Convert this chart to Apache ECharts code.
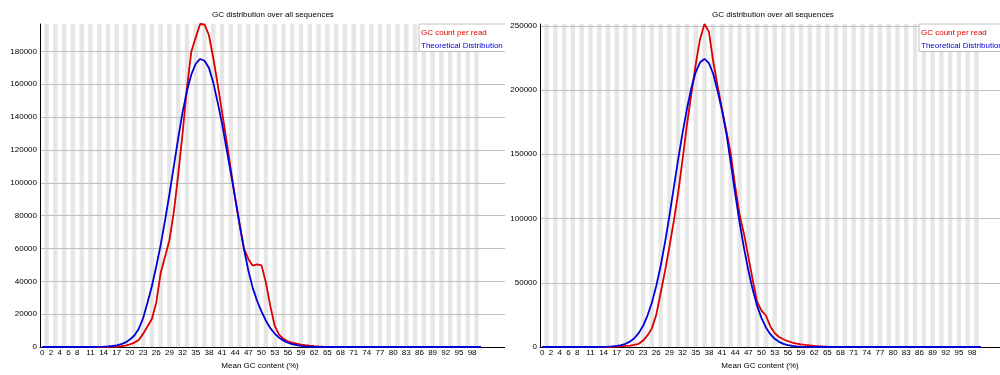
<!DOCTYPE html>
<html>
<head>
<meta charset="utf-8">
<title>GC distribution over all sequences</title>
<script src="https://cdn.jsdelivr.net/npm/echarts@6/dist/echarts.min.js"></script>
<style>
  html, body { margin: 0; padding: 0; background: #fff; width: 1000px; height: 375px; overflow: hidden; position: relative; }
  #rightPanel { position: absolute; left: 500px; top: 0; width: 505px; height: 375px; }
  #leftPanel  { position: absolute; left: 0; top: 0; width: 505px; height: 375px; }
</style>
</head>
<body>
<div id="rightPanel"></div>
<div id="leftPanel"></div>
<script>
// Mean GC content bins (%)
const gcPercent = Array.from({ length: 101 }, (_, i) => i);
// the plot area runs a few empty bins past 100%
const axisSlots = gcPercent.concat([101, 102, 103, 104, 105]);
// bins that carry a label on the x axis
const xTickLabels = [0, 2, 4, 6, 8, 11, 14, 17, 20, 23, 26, 29, 32, 35, 38, 41, 44, 47, 50, 53,
  56, 59, 62, 65, 68, 71, 74, 77, 80, 83, 86, 89, 92, 95, 98];

const seriesNames = ['GC count per read', 'Theoretical Distribution'];

// sample 1
const leftReadCounts = [
  0, 0, 0, 0, 0, 0, 0, 0, 0, 0,
  0, 0, 0, 0, 0, 50, 120, 250, 500, 900,
  1600, 2700, 4200, 8000, 12500, 17000, 27000, 45000, 55000, 65000,
  82000, 105000, 130000, 158000, 180000, 188500, 196700, 196500, 190000, 176000,
  160000, 143000, 126000, 108000, 90500, 75000, 60000, 53500, 49500, 50300,
  49700, 39200, 25000, 13000, 7500, 5000, 3500, 2600, 2000, 1500,
  1100, 800, 550, 350, 200, 120, 60, 30, 0, 0,
  0, 0, 0, 0, 0, 0, 0, 0, 0, 0,
  0, 0, 0, 0, 0, 0, 0, 0, 0, 0,
  0, 0, 0, 0, 0, 0, 0, 0, 0, 0,
  0
];
const leftTheory = [
  0, 0, 0, 0, 0, 0, 0, 0, 0, 0,
  0, 10, 30, 80, 170, 330, 600, 1000, 1700, 2800,
  4500, 7000, 11000, 17500, 27000, 37000, 49000, 62000, 77000, 93000,
  110000, 127000, 143000, 156000, 166000, 172500, 175400, 174300, 170000, 161000,
  149000, 136000, 121000, 106000, 90500, 74500, 59500, 46500, 36000, 28000,
  21500, 16000, 11500, 8200, 5700, 3900, 2600, 1700, 1100, 700,
  420, 250, 140, 70, 30, 0, 0, 0, 0, 0,
  0, 0, 0, 0, 0, 0, 0, 0, 0, 0,
  0, 0, 0, 0, 0, 0, 0, 0, 0, 0,
  0, 0, 0, 0, 0, 0, 0, 0, 0, 0,
  0
];

// sample 2
const rightReadCounts = [
  0, 0, 0, 0, 0, 0, 0, 0, 0, 0,
  0, 0, 0, 0, 0, 0, 100, 250, 500, 800,
  1100, 1600, 2500, 5000, 9000, 14500, 25000, 42000, 59000, 78000,
  98000, 120000, 146000, 173000, 197000, 220000, 240000, 251400, 245500, 222000,
  203000, 185000, 168000, 150000, 125000, 103000, 88000, 70000, 52000, 35000,
  28300, 24500, 16000, 10800, 7800, 6000, 4500, 3500, 2700, 2100,
  1600, 1300, 900, 600, 400, 250, 150, 80, 40, 0,
  0, 0, 0, 0, 0, 0, 0, 0, 0, 0,
  0, 0, 0, 0, 0, 0, 0, 0, 0, 0,
  0, 0, 0, 0, 0, 0, 0, 0, 0, 0,
  0
];
const rightTheory = [
  0, 0, 0, 0, 0, 0, 0, 0, 0, 0,
  0, 0, 0, 50, 110, 220, 430, 800, 1400, 2500,
  4200, 6800, 10800, 16500, 24500, 34500, 47500, 63000, 81500, 102000,
  124000, 146000, 166700, 185400, 201500, 214000, 221600, 224200, 221000, 212500,
  199000, 184000, 166000, 143000, 119000, 97000, 77000, 59500, 44500, 32000,
  22500, 15200, 10000, 6400, 4000, 2400, 1400, 800, 430, 220,
  110, 50, 0, 0, 0, 0, 0, 0, 0, 0,
  0, 0, 0, 0, 0, 0, 0, 0, 0, 0,
  0, 0, 0, 0, 0, 0, 0, 0, 0, 0,
  0, 0, 0, 0, 0, 0, 0, 0, 0, 0,
  0
];

const RED = 'rgb(220,0,0)';
const BLUE = 'rgb(0,0,220)';
const FONT = '"Liberation Sans", Arial, sans-serif';

function buildOption(readCounts, theory, yStep) {
  const yMax = Math.max(...readCounts, ...theory);
  // alternate grey bands behind every odd bin
  const bands = gcPercent.map(i => (i % 2 === 1 ? yMax : null));
  return {
    animation: false,
    textStyle: { fontFamily: FONT },
    title: {
      text: 'GC distribution over all sequences',
      left: 212, top: 11, padding: 0,
      textStyle: { fontSize: 8, fontWeight: 'normal', color: '#000', fontFamily: FONT }
    },
    legend: {
      orient: 'vertical', left: 419, top: 24,
      padding: [4, 8, 1, -3], itemGap: 2.5,
      itemWidth: 0, itemHeight: 10, icon: 'none',
      backgroundColor: '#fff', borderColor: '#c0c0c0', borderWidth: 1, borderRadius: 0,
      selectedMode: false,
      textStyle: { fontSize: 8, lineHeight: 10, fontFamily: FONT },
      data: [
        { name: seriesNames[0], textStyle: { color: RED } },
        { name: seriesNames[1], textStyle: { color: BLUE } }
      ]
    },
    grid: { left: 40, right: 0, top: 24, bottom: 25 },
    xAxis: {
      type: 'category', data: axisSlots, boundaryGap: true,
      axisLine: { lineStyle: { color: '#000', width: 1 } },
      axisTick: { show: false },
      splitLine: { show: false },
      axisLabel: {
        interval: (idx, val) => xTickLabels.includes(Number(val)),
        fontSize: 8, color: '#000', margin: 2, fontFamily: FONT
      },
      name: 'Mean GC content (%)', nameLocation: 'middle', nameGap: 15,
      nameTextStyle: { fontSize: 8, color: '#000', padding: [0, 25, 0, 0], fontFamily: FONT }
    },
    yAxis: {
      type: 'value', min: 0, max: yMax, interval: yStep,
      axisLine: { show: true, lineStyle: { color: '#000', width: 1 } },
      axisTick: { show: false },
      axisLabel: {
        fontSize: 8, color: '#000', margin: 3, showMaxLabel: false, fontFamily: FONT,
        formatter: v => String(v)
      },
      splitLine: { show: true, showMaxLine: false, lineStyle: { color: '#c0c0c0', width: 1 } }
    },
    series: [
      {
        type: 'bar', data: bands, barWidth: '100%', barCategoryGap: '0%',
        itemStyle: { color: '#e6e6e6' }, silent: true, z: -1
      },
      {
        name: seriesNames[0], type: 'line', data: readCounts, symbol: 'none',
        lineStyle: { color: RED, width: 1.8 }, itemStyle: { color: RED }, z: 3
      },
      {
        name: seriesNames[1], type: 'line', data: theory, symbol: 'none',
        lineStyle: { color: BLUE, width: 1.8 }, itemStyle: { color: BLUE }, z: 4
      }
    ]
  };
}

const leftChart = echarts.init(document.getElementById('leftPanel'), null, { renderer: 'canvas' });
leftChart.setOption(buildOption(leftReadCounts, leftTheory, 20000));

const rightChart = echarts.init(document.getElementById('rightPanel'), null, { renderer: 'canvas' });
rightChart.setOption(buildOption(rightReadCounts, rightTheory, 50000));
</script>
</body>
</html>
